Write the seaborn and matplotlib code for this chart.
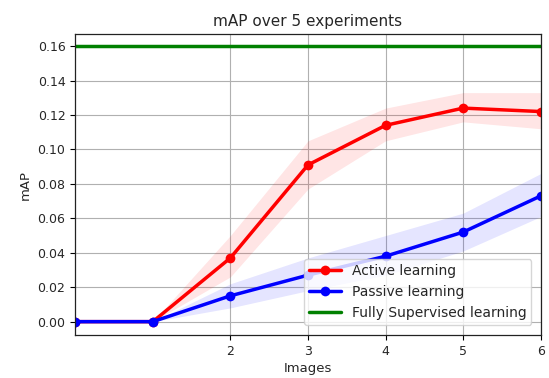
import matplotlib
matplotlib.use("Agg")
import matplotlib.pyplot as plt
import seaborn as sns
import numpy as np
import pandas as pd

x = [0, 1, 2, 3, 4, 5, 6]
active = [0.0, 0.0, 0.037, 0.091, 0.114, 0.124, 0.122]
active_lo = [0.0, 0.0, 0.026, 0.077, 0.105, 0.116, 0.112]
active_hi = [0.0, 0.0, 0.050, 0.105, 0.124, 0.133, 0.133]
passive = [0.0, 0.0, 0.015, 0.027, 0.038, 0.052, 0.073]
passive_lo = [0.0, 0.0, 0.008, 0.018, 0.027, 0.041, 0.061]
passive_hi = [0.0, 0.0, 0.022, 0.037, 0.050, 0.063, 0.086]
full = [0.16] * 7
xticks = [2, 3, 4, 5, 6]

sns.set_style("ticks")
plt.rcParams['font.family'] = ['DejaVu Sans']
fig, ax = plt.subplots(figsize=(5.49, 3.78), dpi=100)

df = pd.DataFrame({"x": x, "active": active, "passive": passive, "full": full})
sns.lineplot(data=df, x="x", y="active", color="red", marker="o", markersize=7,
             markeredgewidth=0, lw=2.5, label="Active learning", ax=ax)
ax.fill_between(x, active_lo, active_hi, color="red", alpha=0.1, lw=0)
sns.lineplot(data=df, x="x", y="passive", color="blue", marker="o", markersize=7,
             markeredgewidth=0, lw=2.5, label="Passive learning", ax=ax)
ax.fill_between(x, passive_lo, passive_hi, color="blue", alpha=0.1, lw=0)
sns.lineplot(data=df, x="x", y="full", color="green", lw=2.5,
             label="Fully Supervised learning", ax=ax)

ax.set_xlim(0, 6)
ax.set_ylim(-0.0077, 0.1668)
ax.set_xticks(xticks)
ax.set_yticks(np.arange(0, 0.161, 0.02))
ax.set_yticklabels([f"{v:.2f}" for v in np.arange(0, 0.161, 0.02)])
ax.grid(True, color="#b0b0b0", lw=0.8)
for s in ax.spines.values():
    s.set_color("#222222")
    s.set_linewidth(0.9)
ax.tick_params(direction="out", length=3.5, width=0.8, labelsize=9, color="black")
ax.set_xlabel("Images", fontsize=9.5, labelpad=3)
ax.set_ylabel("mAP", fontsize=9.5)
ax.set_title("mAP over 5 experiments", fontsize=11)
ax.legend(loc="lower right", fontsize=10, frameon=True, fancybox=True,
          borderpad=0.35, handlelength=2.3, labelspacing=0.5,
          bbox_to_anchor=(0.995, 0.01))
fig.subplots_adjust(left=0.137, right=0.985, top=0.909, bottom=0.114)
fig.savefig("out.png", dpi=100)
